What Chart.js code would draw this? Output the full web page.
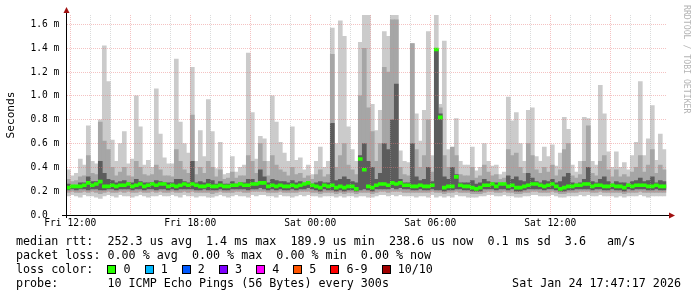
<!DOCTYPE html>
<html>
<head>
<meta charset="utf-8">
<script src="https://cdn.jsdelivr.net/npm/chart.js@4"></script>
<style>
  body { margin: 0; background: #fff; }
  #wrap { position: relative; width: 697px; height: 297px; }
  #c { position: absolute; left: 0; top: 0; }
  .row { position: absolute; left: 16px; height: 14px; line-height: 14px; font: 11.7px 'DejaVu Sans Mono', monospace; color: #000; white-space: pre; }
  .box { display: inline-block; width: 7px; height: 7px; border: 1px solid #000; vertical-align: -1px; }
</style>
</head>
<body>
<div id="wrap">
  <canvas id="c" width="697" height="297"></canvas>
  <div class="row" style="top:234px">median rtt:  252.3 us avg  1.4 ms max  189.9 us min  238.6 us now  0.1 ms sd  3.6   am/s</div>
  <div class="row" style="top:248px">packet loss: 0.00 % avg  0.00 % max  0.00 % min  0.00 % now</div>
  <div class="row" id="lossRow" style="top:262px">loss color:  </div>
  <div class="row" style="top:276px">probe:       10 ICMP Echo Pings (56 Bytes) every 300s</div>
  <div class="row" style="top:276px;left:auto;right:16px">Sat Jan 24 17:47:17 2026</div>
</div>
<script>
// 12 minute steps, hours counted from Fri 00:00
const START = 11.8;
const STEP = 0.2;

// ping round trip (ms), top of the smoke
const maxRtt = [
  0.38,0.33,0.35,0.47,0.42,0.75,0.45,0.43,0.80,1.42,1.12,0.63,0.45,0.60,0.70,0.43,0.47,1.00,0.74,0.42,0.46,0.40,1.06,0.68,0.48,
  0.43,0.43,1.31,0.78,0.60,0.52,1.24,0.45,0.71,0.49,0.97,0.70,0.39,0.61,0.34,0.35,0.49,0.36,0.40,0.42,1.36,0.86,0.47,0.66,0.64,
  0.45,1.00,0.78,0.61,0.52,0.45,0.74,0.46,0.48,0.38,0.42,0.34,0.45,0.57,0.40,0.45,1.57,0.60,1.63,1.50,0.74,0.55,0.45,1.45,1.68,
  1.68,0.93,0.71,0.88,1.54,1.50,1.68,1.68,0.54,0.45,0.44,1.44,0.85,0.62,0.88,1.54,0.50,1.68,0.93,1.46,0.55,0.54,0.81,0.45,0.42,
  0.42,0.57,0.37,0.40,0.60,0.45,0.41,0.42,0.34,0.36,0.99,0.79,0.86,0.60,0.45,0.88,0.90,0.49,0.45,0.57,0.49,0.59,0.41,0.52,0.82,
  0.72,0.42,0.36,0.45,0.82,0.81,0.45,0.42,1.09,0.85,0.53,0.40,0.53,0.40,0.44,0.38,0.50,0.61,1.12,0.50,0.64,0.92,0.46,0.68,0.55
];
const p80 = [
  0.30,0.28,0.29,0.32,0.33,0.50,0.35,0.34,0.78,0.62,0.55,0.40,0.33,0.36,0.40,0.33,0.32,0.45,0.40,0.34,0.33,0.34,0.42,0.38,0.33,
  0.33,0.32,0.55,0.45,0.38,0.35,0.84,0.34,0.40,0.35,0.45,0.40,0.32,0.38,0.30,0.31,0.36,0.31,0.33,0.33,0.50,0.45,0.35,0.60,0.45,
  0.33,0.50,0.42,0.38,0.36,0.33,0.40,0.34,0.35,0.31,0.33,0.30,0.34,0.38,0.32,0.34,1.35,0.40,0.50,0.60,0.42,0.38,0.34,1.00,1.40,
  0.90,0.70,0.45,0.60,1.24,1.20,1.64,1.64,0.40,0.34,0.33,1.44,0.55,0.40,0.50,0.80,0.36,1.39,0.90,0.50,0.40,0.57,0.50,0.34,0.33,
  0.33,0.40,0.31,0.33,0.42,0.36,0.33,0.34,0.30,0.31,0.55,0.50,0.52,0.40,0.35,0.60,0.50,0.38,0.35,0.40,0.36,0.42,0.33,0.38,0.55,
  0.60,0.33,0.31,0.34,0.45,0.75,0.35,0.33,0.45,0.50,0.38,0.32,0.38,0.32,0.34,0.32,0.36,0.40,0.50,0.36,0.42,0.55,0.35,0.42,0.38
];
const p60 = [
  0.26,0.25,0.25,0.27,0.27,0.32,0.28,0.28,0.45,0.35,0.30,0.29,0.27,0.28,0.29,0.27,0.27,0.30,0.28,0.27,0.27,0.27,0.29,0.28,0.27,
  0.27,0.27,0.30,0.30,0.28,0.27,0.45,0.27,0.28,0.27,0.30,0.29,0.26,0.28,0.26,0.26,0.28,0.26,0.27,0.27,0.30,0.30,0.27,0.38,0.32,
  0.27,0.30,0.29,0.28,0.28,0.27,0.29,0.27,0.28,0.26,0.27,0.26,0.27,0.28,0.27,0.27,0.77,0.29,0.30,0.32,0.30,0.28,0.27,0.50,0.60,
  0.45,0.40,0.30,0.35,0.60,0.55,0.80,1.10,0.30,0.27,0.27,0.60,0.32,0.29,0.30,0.40,0.28,1.39,0.85,0.32,0.30,0.40,0.34,0.27,0.27,
  0.27,0.29,0.26,0.27,0.30,0.28,0.27,0.27,0.26,0.26,0.33,0.30,0.32,0.29,0.28,0.35,0.31,0.28,0.27,0.29,0.28,0.30,0.27,0.28,0.32,
  0.35,0.27,0.26,0.27,0.30,0.40,0.28,0.27,0.30,0.32,0.28,0.26,0.28,0.27,0.27,0.26,0.28,0.29,0.31,0.28,0.29,0.32,0.27,0.29,0.28
];
const median = [
  0.23,0.24,0.24,0.24,0.25,0.27,0.25,0.26,0.28,0.24,0.24,0.25,0.24,0.25,0.25,0.26,0.24,0.25,0.26,0.24,0.25,0.26,0.25,0.26,0.26,
  0.24,0.25,0.24,0.25,0.26,0.25,0.26,0.25,0.24,0.24,0.25,0.24,0.24,0.25,0.24,0.24,0.25,0.25,0.26,0.25,0.25,0.26,0.26,0.27,0.27,
  0.24,0.25,0.24,0.25,0.24,0.24,0.25,0.24,0.25,0.26,0.27,0.25,0.24,0.23,0.25,0.24,0.25,0.23,0.24,0.23,0.24,0.24,0.22,0.47,0.38,
  0.24,0.23,0.25,0.26,0.26,0.25,0.27,0.26,0.27,0.25,0.25,0.24,0.24,0.25,0.24,0.24,0.25,1.39,0.82,0.23,0.24,0.24,0.32,0.25,0.24,
  0.24,0.23,0.22,0.23,0.25,0.25,0.26,0.24,0.26,0.26,0.24,0.25,0.23,0.23,0.24,0.25,0.26,0.26,0.25,0.24,0.25,0.26,0.24,0.22,0.23,
  0.24,0.24,0.25,0.25,0.26,0.26,0.24,0.25,0.25,0.24,0.24,0.25,0.24,0.24,0.23,0.25,0.24,0.25,0.25,0.25,0.24,0.24,0.25,0.24,0.24
];
const p40 = [
  0.21,0.22,0.21,0.22,0.22,0.21,0.22,0.22,0.21,0.21,0.22,0.22,0.21,0.22,0.22,0.22,0.21,0.22,0.22,0.21,0.22,0.22,0.21,0.22,0.22,
  0.21,0.22,0.21,0.22,0.22,0.22,0.22,0.21,0.21,0.22,0.21,0.21,0.21,0.22,0.21,0.21,0.22,0.22,0.22,0.22,0.21,0.22,0.22,0.23,0.22,
  0.21,0.22,0.21,0.22,0.21,0.21,0.22,0.21,0.22,0.22,0.23,0.22,0.21,0.20,0.22,0.21,0.21,0.20,0.21,0.20,0.21,0.21,0.20,0.21,0.22,
  0.21,0.20,0.22,0.22,0.22,0.22,0.23,0.22,0.23,0.22,0.22,0.21,0.21,0.22,0.21,0.21,0.22,0.21,0.21,0.20,0.21,0.21,0.22,0.22,0.21,
  0.21,0.20,0.20,0.20,0.22,0.22,0.22,0.21,0.22,0.22,0.21,0.22,0.20,0.20,0.21,0.22,0.22,0.22,0.22,0.21,0.22,0.22,0.21,0.20,0.20,
  0.21,0.21,0.22,0.22,0.22,0.22,0.21,0.22,0.22,0.21,0.21,0.22,0.21,0.21,0.20,0.22,0.21,0.22,0.22,0.22,0.21,0.21,0.22,0.21,0.21
];
const p20 = [
  0.19,0.20,0.19,0.19,0.20,0.19,0.20,0.19,0.18,0.19,0.20,0.19,0.19,0.20,0.19,0.20,0.19,0.19,0.20,0.19,0.19,0.20,0.19,0.20,0.19,
  0.19,0.20,0.19,0.19,0.20,0.19,0.20,0.19,0.19,0.19,0.19,0.18,0.19,0.20,0.19,0.19,0.19,0.20,0.20,0.19,0.19,0.20,0.20,0.20,0.20,
  0.19,0.19,0.19,0.20,0.19,0.19,0.19,0.19,0.20,0.20,0.20,0.19,0.19,0.18,0.19,0.19,0.19,0.18,0.19,0.18,0.19,0.19,0.18,0.19,0.19,
  0.19,0.18,0.19,0.20,0.20,0.19,0.20,0.20,0.20,0.19,0.19,0.19,0.19,0.19,0.19,0.19,0.20,0.19,0.19,0.18,0.19,0.19,0.20,0.19,0.19,
  0.19,0.18,0.18,0.18,0.19,0.20,0.20,0.19,0.19,0.20,0.19,0.19,0.18,0.18,0.19,0.19,0.20,0.20,0.19,0.19,0.19,0.20,0.19,0.18,0.18,
  0.19,0.19,0.19,0.20,0.20,0.20,0.19,0.19,0.20,0.19,0.19,0.19,0.19,0.19,0.18,0.19,0.19,0.19,0.20,0.19,0.19,0.19,0.19,0.19,0.19
];
const minRtt = [
  0.16,0.17,0.16,0.15,0.17,0.16,0.16,0.15,0.14,0.16,0.17,0.16,0.15,0.17,0.16,0.16,0.15,0.16,0.17,0.16,0.15,0.16,0.16,0.17,0.16,
  0.16,0.17,0.16,0.15,0.17,0.16,0.16,0.15,0.16,0.16,0.15,0.15,0.16,0.17,0.16,0.15,0.16,0.17,0.16,0.16,0.15,0.17,0.16,0.17,0.17,
  0.16,0.16,0.15,0.17,0.16,0.16,0.15,0.16,0.17,0.16,0.17,0.16,0.16,0.15,0.16,0.16,0.16,0.15,0.16,0.15,0.16,0.16,0.15,0.16,0.16,
  0.15,0.15,0.16,0.17,0.17,0.16,0.17,0.16,0.17,0.16,0.16,0.16,0.15,0.16,0.16,0.15,0.17,0.15,0.16,0.15,0.16,0.15,0.17,0.16,0.16,
  0.15,0.15,0.15,0.16,0.16,0.17,0.17,0.16,0.16,0.17,0.16,0.16,0.15,0.15,0.16,0.16,0.17,0.17,0.16,0.16,0.16,0.17,0.16,0.15,0.15,
  0.16,0.16,0.16,0.17,0.16,0.17,0.16,0.16,0.17,0.16,0.16,0.16,0.15,0.16,0.15,0.16,0.16,0.16,0.17,0.16,0.15,0.16,0.16,0.16,0.16
];

// loss colour legend
const lossLabels = ['0', '1', '2', '3', '4', '5', '6-9', '10/10'];
const lossColors = ['#26ff00', '#00b8ff', '#0059ff', '#7e00ff', '#ff00ff', '#ff5500', '#ff0000', '#a10000'];

// axis labels
const dayNames = ['Fri', 'Sat'];
const yMax = 1.68;

const lossRow = document.getElementById('lossRow');
lossLabels.forEach((lab, i) => {
  const b = document.createElement('span');
  b.className = 'box';
  b.style.background = lossColors[i];
  lossRow.appendChild(b);
  lossRow.appendChild(document.createTextNode(' ' + lab + '  '));
});

const hourAt = i => START + STEP / 2 + i * STEP;
function band(lo, hi) {
  return lo.map((v, i) => ({ x: hourAt(i), y: [v, hi[i]] }));
}
const medHalf = 0.0125; // median drawn as a 3px strip like smokeping

const MAJOR = 'rgba(230,120,120,0.45)';
const MINOR = 'rgba(165,165,165,0.4)';

const rrdFrame = {
  id: 'rrdFrame',
  afterDatasetsDraw(chart) {
    const { ctx, chartArea: a, scales: { x, y } } = chart;
    ctx.save();
    // dotted grid, drawn over the smoke
    x.ticks.forEach(t => {
      const px = Math.floor(x.getPixelForValue(t.value));
      ctx.fillStyle = t.value % 3 === 0 ? MAJOR : MINOR;
      for (let py = Math.ceil(a.top); py < a.bottom; py += 2) ctx.fillRect(px, py, 1, 1);
    });
    y.ticks.forEach(t => {
      const k = Math.round(t.value * 10);
      if (k === 0) return;
      const py = Math.floor(y.getPixelForValue(t.value));
      ctx.fillStyle = k % 2 === 0 ? MAJOR : MINOR;
      for (let px = Math.ceil(a.left); px < a.right; px += 2) ctx.fillRect(px, py, 1, 1);
    });
    ctx.restore();
  },
  afterDraw(chart) {
    const { ctx, chartArea: a } = chart;
    ctx.save();
    ctx.fillStyle = '#000';
    const ax = Math.floor(a.left);
    const ay = Math.floor(a.bottom);
    ctx.fillRect(ax, 11, 1, ay - 11 + 3);
    ctx.fillRect(ax - 4, ay, Math.ceil(a.right) - ax + 7, 1);
    // arrows
    ctx.fillStyle = '#a01010';
    ctx.beginPath();
    ctx.moveTo(ax + 0.5, 7); ctx.lineTo(ax - 2.5, 13); ctx.lineTo(ax + 3.5, 13); ctx.closePath(); ctx.fill();
    const rx = Math.ceil(a.right) + 2;
    ctx.beginPath();
    ctx.moveTo(rx + 6, ay + 0.5); ctx.lineTo(rx, ay - 2.5); ctx.lineTo(rx, ay + 3.5); ctx.closePath(); ctx.fill();
    // watermark
    ctx.translate(686, 5);
    ctx.rotate(Math.PI / 2);
    ctx.font = "8.2px 'DejaVu Sans Mono'";
    ctx.fillStyle = '#b4b4b4';
    ctx.textBaseline = 'middle';
    ctx.fillText('RRDTOOL / TOBI OETIKER', 0, 0);
    ctx.restore();
  }
};

Chart.defaults.font.family = "'DejaVu Sans Mono', monospace";
Chart.defaults.color = '#000';

new Chart(document.getElementById('c'), {
  type: 'bar',
  data: {
    datasets: [
      { label: 'median', data: median.map((m, i) => ({ x: hourAt(i), y: [m - medHalf, m + medHalf] })), backgroundColor: '#26ff00' },
      { label: 'p40-p60', data: band(p40, p60), backgroundColor: '#5c5c5c' },
      { label: 'p20-p80', data: band(p20, p80), backgroundColor: '#a6a6a6' },
      { label: 'min-max', data: band(minRtt, maxRtt), backgroundColor: '#cbcbcb' }
    ]
  },
  options: {
    responsive: false,
    animation: false,
    events: [],
    datasets: {
      bar: { grouped: false, barPercentage: 1, categoryPercentage: 1, borderWidth: 0 }
    },
    layout: { padding: { top: 15, right: 30.7, bottom: 0, left: 0 } },
    plugins: { legend: { display: false }, tooltip: { enabled: false } },
    scales: {
      x: {
        type: 'linear',
        min: START,
        max: START + STEP * median.length,
        offset: false,
        grid: { display: false, drawTicks: false },
        border: { display: false },
        afterBuildTicks(s) {
          const t = [];
          for (let h = Math.ceil(START); h <= START + STEP * median.length; h++) t.push({ value: h });
          s.ticks = t;
        },
        afterFit(s) { s.height = 82; },
        ticks: {
          autoSkip: false,
          maxRotation: 0,
          minRotation: 0,
          padding: 3,
          font: { size: 9.6 },
          callback(v) {
            if (v % 6 !== 0) return '';
            const hh = v % 24;
            return dayNames[Math.floor(v / 24)] + ' ' + String(hh).padStart(2, '0') + ':00';
          }
        }
      },
      y: {
        min: 0,
        max: yMax,
        grid: { display: false, drawTicks: false },
        border: { display: false },
        afterBuildTicks(s) {
          const t = [];
          for (let k = 0; k <= 16; k++) t.push({ value: k / 10 });
          s.ticks = t;
        },
        afterFit(s) { s.width = 66.3; },
        ticks: {
          padding: 7,
          font: { size: 9.6 },
          callback(v) {
            const k = Math.round(v * 10);
            if (k % 2) return '';
            return k === 0 ? '0.0  ' : (k / 10).toFixed(1) + ' m';
          }
        },
        title: { display: true, text: 'Seconds', font: { size: 11.2 }, padding: { top: 4, bottom: 0 } }
      }
    }
  },
  plugins: [rrdFrame]
});
</script>
</body>
</html>
